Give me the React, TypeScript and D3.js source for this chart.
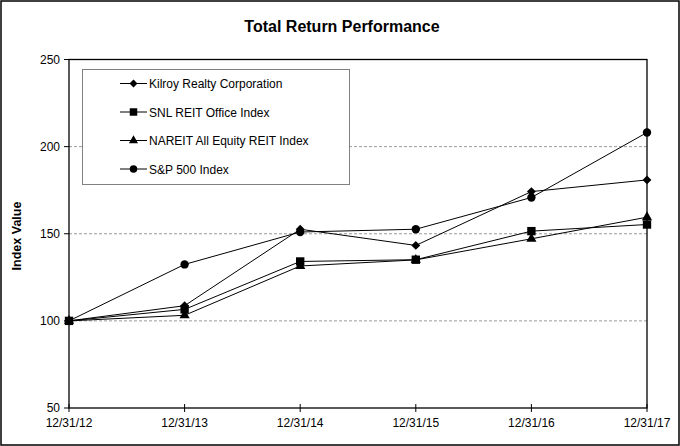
import React from "react"
import * as d3 from "d3"

const dates = ["12/31/12", "12/31/13", "12/31/14", "12/31/15", "12/31/16", "12/31/17"]
const kilroy = [100, 108.7, 152.6, 143.3, 174.2, 180.9]
const snlOffice = [100, 106.6, 134.1, 135.1, 151.5, 155.3]
const nareit = [100, 103.2, 131.5, 135.0, 147.1, 159.5]
const sp500 = [100, 132.4, 151.0, 152.6, 170.8, 208.1]
const yTicks = [50, 100, 150, 200, 250]
const gridValues = [100, 150, 200]

const series = [
  { name: "Kilroy Realty Corporation", values: kilroy, symbol: d3.symbolDiamond2, size: 50 },
  { name: "SNL REIT Office Index", values: snlOffice, symbol: d3.symbolSquare, size: 70 },
  { name: "NAREIT All Equity REIT Index", values: nareit, symbol: d3.symbolTriangle, size: 45 },
  { name: "S&P 500 Index", values: sp500, symbol: d3.symbolCircle, size: 55 },
]

const W = 680
const H = 446
const plot = { left: 69, right: 647, top: 59.5, bottom: 408 }
const font = "Arial, 'Liberation Sans', sans-serif"

export default function App() {
  const x = d3.scalePoint<string>().domain(dates).range([plot.left, plot.right])
  const y = d3.scaleLinear().domain([50, 250]).range([plot.bottom, plot.top])
  const line = d3
    .line<number>()
    .x((_, i) => x(dates[i]) as number)
    .y((d) => y(d))

  return (
    <div style={{ position: "fixed", left: 0, top: 0 }}>
      <svg width={W} height={H} style={{ display: "block", background: "#fff" }}>
        <rect x={1} y={1} width={W - 2} height={H - 2} fill="#fff" stroke="#000" strokeWidth={1.5} />
        <text x={342} y={32} textAnchor="middle" fontFamily={font} fontSize={16} fontWeight="bold">
          Total Return Performance
        </text>
        <text
          transform={`translate(21,236) rotate(-90)`}
          textAnchor="middle"
          fontFamily={font}
          fontSize={12.5}
          fontWeight="bold"
        >
          Index Value
        </text>

        {/* grid */}
        {gridValues.map((v) => (
          <line
            key={v}
            x1={plot.left}
            x2={plot.right}
            y1={y(v)}
            y2={y(v)}
            stroke="#808080"
            strokeWidth={0.8}
            strokeDasharray="3,2"
          />
        ))}

        {/* plot frame */}
        <rect
          x={plot.left}
          y={plot.top}
          width={plot.right - plot.left}
          height={plot.bottom - plot.top}
          fill="none"
          stroke="#000"
          strokeWidth={1.3}
        />

        {/* y axis */}
        {yTicks.map((v) => (
          <g key={v}>
            <line x1={plot.left - 5} x2={plot.left} y1={y(v)} y2={y(v)} stroke="#000" />
            <text x={60} y={y(v) + 4} textAnchor="end" fontFamily={font} fontSize={12}>
              {v}
            </text>
          </g>
        ))}

        {/* x axis */}
        {dates.map((d) => (
          <g key={d}>
            <line x1={x(d)} x2={x(d)} y1={plot.bottom - 4} y2={plot.bottom + 4} stroke="#000" />
            <text x={x(d)} y={427} textAnchor="middle" fontFamily={font} fontSize={12}>
              {d}
            </text>
          </g>
        ))}

        {/* legend */}
        <rect x={82.5} y={69.5} width={267} height={115} fill="#fff" stroke="#808080" strokeWidth={1} />
        {series.map((s, i) => {
          const ly = 83.5 + i * 28.5
          return (
            <g key={s.name}>
              <line x1={120} x2={147} y1={ly} y2={ly} stroke="#000" strokeWidth={1} />
              <path d={d3.symbol(s.symbol, s.size * 0.8)() ?? ""} transform={`translate(133.5,${ly})`} fill="#000" />
              <text x={149} y={ly + 4.5} fontFamily={font} fontSize={12}>
                {s.name}
              </text>
            </g>
          )
        })}

        {/* series */}
        {series.map((s) => (
          <g key={s.name}>
            <path d={line(s.values) ?? ""} fill="none" stroke="#000" strokeWidth={1} />
            {s.values.map((v, i) => (
              <path
                key={i}
                d={d3.symbol(s.symbol, s.size)() ?? ""}
                transform={`translate(${x(dates[i])},${y(v)})`}
                fill="#000"
              />
            ))}
          </g>
        ))}
      </svg>
    </div>
  )
}
